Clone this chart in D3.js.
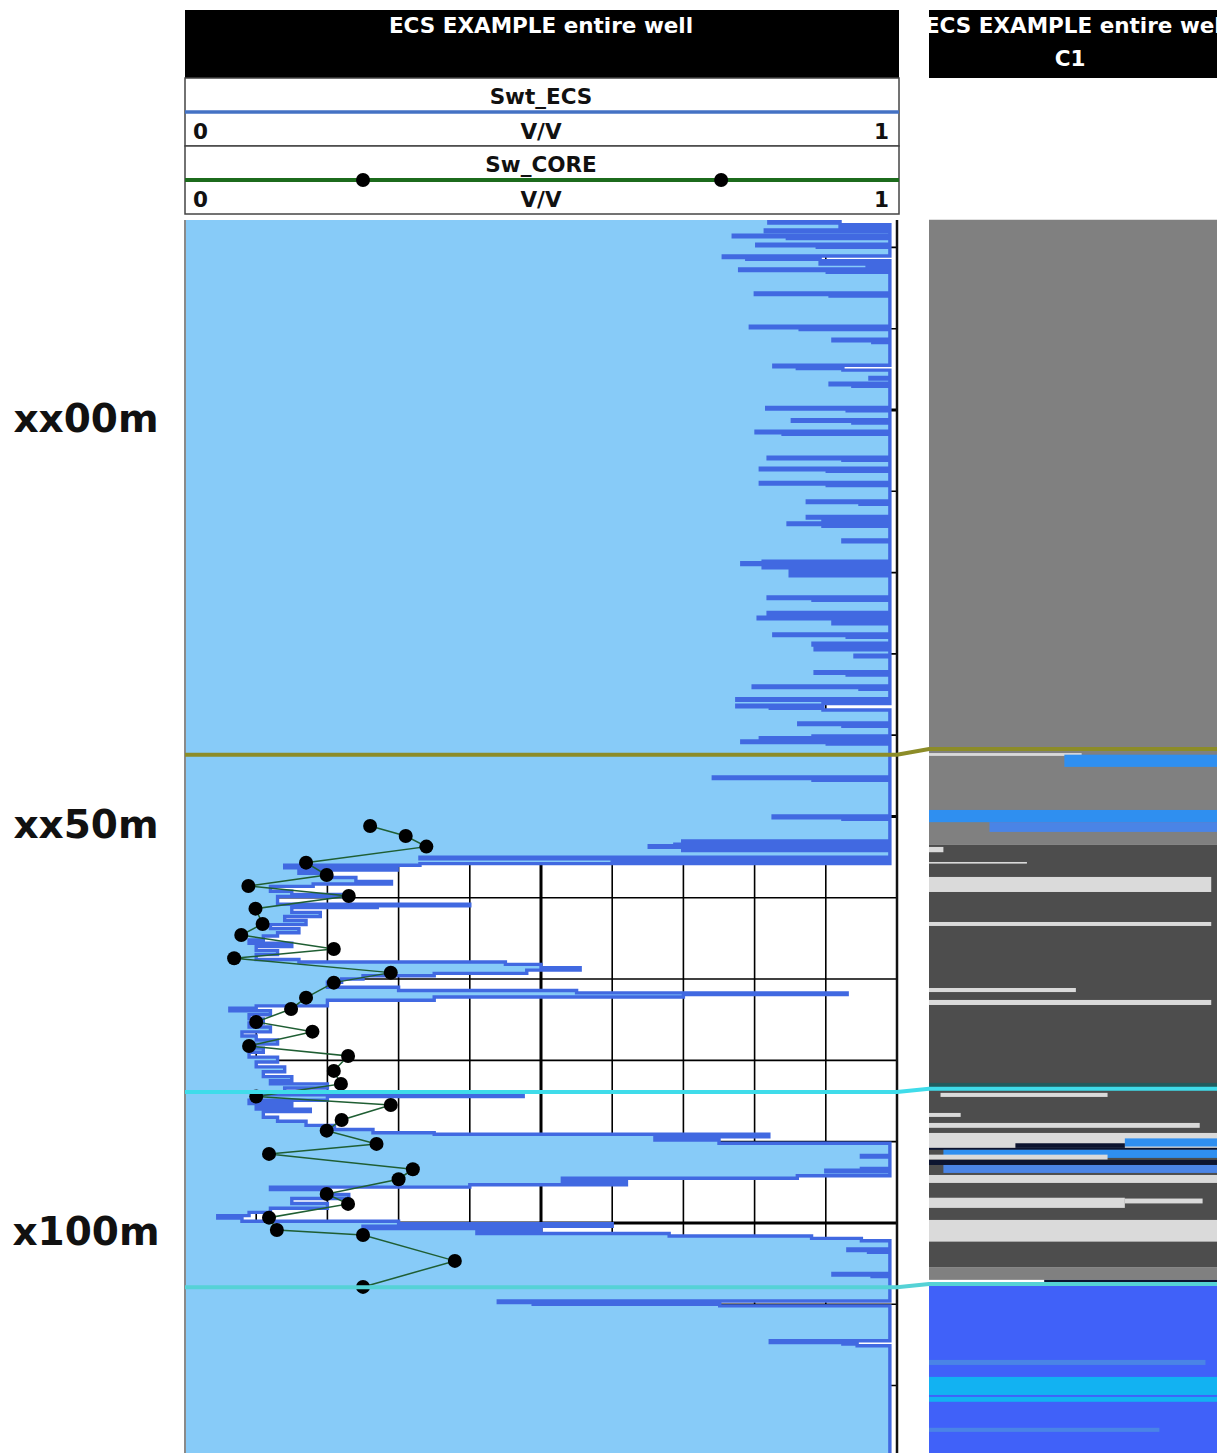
<!DOCTYPE html>
<html>
<head>
<meta charset="utf-8">
<script src="https://cdn.jsdelivr.net/npm/d3@7"></script>
<style>
  body { margin: 0; background: #fff; }
  text { font-family: 'DejaVu Sans', Verdana, sans-serif; font-weight: bold; }
</style>
</head>
<body>
<svg id="log" width="1223" height="1453"></svg>
<script>
  'use strict';

  // depth labels (m, relative) shown in the depth column
  var depthLabels = [[0, 'xx00m'], [50, 'xx50m'], [100, 'x100m']];

  // Swt_ECS samples [depth, V/V] ; each value holds down to the next sample
  var swtEcs = [
    [-23.4, 0.92], [-23.2, 0.82], [-23.0, 0.92], [-22.8, 0.99], [-22.6, 0.92], [-22.4, 0.99],
    [-22.15, 0.815], [-21.95, 0.99],
    [-21.5, 0.77], [-21.3, 0.846], [-21.1, 0.99],
    [-20.4, 0.803], [-20.2, 0.888], [-20.0, 0.99],
    [-18.95, 0.756], [-18.75, 0.789], [-18.55, 0.892], [-18.35, 0.99], [-18.15, 0.892], [-17.95, 0.958], [-17.75, 0.99],
    [-17.35, 0.779], [-17.15, 0.902], [-16.95, 0.99],
    [-14.4, 0.801], [-14.2, 0.906], [-14.0, 0.99],
    [-10.3, 0.794], [-10.1, 0.864], [-9.9, 0.99],
    [-8.7, 0.91], [-8.5, 0.966], [-8.3, 0.99],
    [-5.5, 0.827], [-5.3, 0.86], [-5.1, 0.924], [-4.9, 0.99],
    [-4.0, 0.962], [-3.8, 0.99],
    [-3.3, 0.906], [-3.1, 0.938], [-2.9, 0.99],
    [-0.3, 0.817], [-0.1, 0.93], [0.1, 0.99],
    [1.2, 0.853], [1.4, 0.938], [1.6, 0.99],
    [2.6, 0.802], [2.8, 0.84], [3.0, 0.99],
    [5.8, 0.819], [6.0, 0.924], [6.2, 0.99],
    [7.15, 0.808], [7.35, 0.902], [7.55, 0.99],
    [8.9, 0.808], [9.1, 0.902], [9.3, 0.99],
    [11.2, 0.874], [11.4, 0.948], [11.6, 0.99],
    [13.1, 0.874], [13.3, 0.99], [13.5, 0.896], [13.7, 0.99], [13.9, 0.847], [14.1, 0.896], [14.3, 0.99],
    [16.0, 0.924], [16.2, 0.99],
    [18.6, 0.812], [18.8, 0.782], [19.0, 0.99], [19.2, 0.812], [19.4, 0.85], [19.6, 0.99], [19.8, 0.85], [20.0, 0.99], [20.2, 0.85], [20.4, 0.99],
    [23.0, 0.819], [23.2, 0.882], [23.4, 0.99],
    [24.9, 0.819], [25.1, 0.91], [25.3, 0.99], [25.5, 0.805], [25.7, 0.91], [25.9, 0.99], [26.1, 0.91], [26.3, 0.99],
    [27.55, 0.827], [27.75, 0.93], [27.95, 0.99],
    [28.7, 0.882], [28.9, 0.99],
    [29.3, 0.885], [29.5, 0.99],
    [30.15, 0.941], [30.35, 0.99],
    [32.2, 0.885], [32.4, 0.93], [32.6, 0.99],
    [33.95, 0.798], [34.15, 0.948], [34.35, 0.99],
    [35.5, 0.775], [35.7, 0.896], [35.9, 0.99], [36.1, 0.896], [36.3, 0.775], [36.5, 0.822], [36.7, 0.896], [36.9, 0.99],
    [38.5, 0.862], [38.7, 0.924], [38.9, 0.99],
    [40.1, 0.882], [40.3, 0.808], [40.5, 0.99], [40.7, 0.782], [40.9, 0.902], [41.1, 0.99],
    [45.15, 0.742], [45.35, 0.882], [45.55, 0.99],
    [49.95, 0.826], [50.15, 0.924], [50.35, 0.99],
    [53.0, 0.699], [53.2, 0.99], [53.4, 0.688], [53.6, 0.652], [53.8, 0.99], [54.0, 0.699], [54.2, 0.99],
    [55.0, 0.33], [55.2, 0.99], [55.4, 0.6], [55.6, 0.99], [55.8, 0.33], [56.0, 0.14],
    [56.3, 0.298], [56.6, 0.16], [57.0, 0.2], [57.5, 0.24], [58.0, 0.29], [58.3, 0.18],
    [58.6, 0.12], [59.2, 0.15], [59.6, 0.228], [59.85, 0.13],
    [60.8, 0.40], [61.0, 0.27], [61.2, 0.15],
    [61.8, 0.19], [62.3, 0.14], [62.8, 0.17], [63.3, 0.12], [63.8, 0.16], [64.3, 0.13], [64.7, 0.11],
    [65.2, 0.09], [65.6, 0.15], [66.0, 0.1], [66.5, 0.13], [67.0, 0.1],
    [67.6, 0.16], [67.9, 0.45], [68.2, 0.5], [68.6, 0.555], [68.9, 0.48], [69.3, 0.35], [69.6, 0.25],
    [70.0, 0.22], [70.4, 0.2],
    [71.0, 0.3], [71.4, 0.55], [71.7, 0.93], [71.9, 0.7], [72.2, 0.35], [72.6, 0.2],
    [73.3, 0.1], [73.6, 0.063], [73.9, 0.12], [74.4, 0.09], [74.9, 0.11],
    [75.4, 0.09], [75.9, 0.12], [76.5, 0.08], [77.0, 0.1], [77.5, 0.13], [78.0, 0.085], [78.5, 0.11],
    [79.0, 0.09], [79.6, 0.13], [80.2, 0.1], [80.8, 0.14], [81.4, 0.11], [82.0, 0.15], [82.5, 0.12], [82.9, 0.2],
    [83.4, 0.14], [84.0, 0.1], [84.25, 0.475], [84.45, 0.2],
    [84.9, 0.09], [85.3, 0.15], [85.7, 0.1], [86.0, 0.176], [86.3, 0.11],
    [87.0, 0.13], [87.5, 0.17], [88.0, 0.21], [88.5, 0.264],
    [88.9, 0.35], [89.1, 0.82], [89.4, 0.66], [89.8, 0.75], [90.2, 0.99], [91.7, 0.95], [91.9, 0.99],
    [93.3, 0.95], [93.5, 0.9], [93.7, 0.99], [94.2, 0.86], [94.5, 0.53], [94.9, 0.62], [95.3, 0.4], [95.6, 0.12],
    [95.9, 0.2], [96.5, 0.23], [97.0, 0.15], [97.6, 0.2], [98.2, 0.12], [98.7, 0.09],
    [99.1, 0.046], [99.4, 0.08],
    [99.8, 0.3], [100.1, 0.6], [100.4, 0.25], [100.7, 0.5], [101.0, 0.41], [101.3, 0.68], [101.6, 0.88], [101.9, 0.95], [102.2, 0.99],
    [103.2, 0.931], [103.4, 0.96], [103.6, 0.99],
    [106.2, 0.91], [106.4, 0.965], [106.6, 0.99],
    [109.6, 0.44], [109.8, 0.489], [110.0, 0.751], [110.2, 0.99],
    [114.5, 0.822], [114.7, 0.924], [114.9, 0.944], [115.1, 0.99],
    [128.5, 0.99]
  ];

  // Sw_CORE plugs [depth, V/V]
  var swCore = [
    [51.17, 0.260], [52.40, 0.310], [53.71, 0.339], [55.68, 0.170], [57.20, 0.199],
    [58.55, 0.089], [59.78, 0.230], [61.34, 0.099], [63.22, 0.109], [64.58, 0.079],
    [66.30, 0.209], [67.44, 0.069], [69.21, 0.289], [70.44, 0.209], [72.29, 0.170],
    [73.68, 0.149], [75.28, 0.100], [76.47, 0.179], [78.23, 0.090], [79.46, 0.229],
    [81.30, 0.209], [82.90, 0.219], [84.46, 0.100], [85.49, 0.289], [87.33, 0.220],
    [88.65, 0.199], [90.28, 0.269], [91.51, 0.118], [93.39, 0.320], [94.62, 0.300],
    [96.43, 0.199], [97.66, 0.229], [99.35, 0.118], [100.86, 0.129], [101.48, 0.250],
    [104.67, 0.379], [107.87, 0.250]
  ];

  // formation tops: depth in the Swt_ECS track and in the C1 track
  var topsDepth = [42.4, 83.9, 107.9];
  var topsDepthC1 = [41.7, 83.5, 107.5];

  // C1 track intervals [top, base, class, from, to] (from/to = fraction of track width)
  var c1Intervals = [
    [-23.4, 53.5, 'grey', 0, 1],
    [42.2, 42.55, 'light', 0, 0.53],
    [42.4, 43.9, 'blue', 0.47, 1],
    [49.2, 50.7, 'blue', 0, 1],
    [50.7, 51.9, 'midblue', 0.21, 1],
    [53.5, 105.5, 'dark', 0, 1],
    [53.75, 54.4, 'light', 0, 0.05],
    [55.6, 55.8, 'light', 0, 0.34],
    [57.44, 59.29, 'light', 0, 0.98],
    [62.98, 63.47, 'light', 0, 0.98],
    [71.1, 71.6, 'light', 0, 0.51],
    [72.57, 73.19, 'light', 0, 0.98],
    [82.78, 83.27, 'teal', 0, 1],
    [84.0, 84.5, 'light', 0.04, 0.62],
    [86.47, 86.96, 'light', 0, 0.11],
    [87.7, 88.3, 'light', 0, 0.94],
    [88.93, 90.77, 'light', 0, 1],
    [89.6, 90.6, 'blue', 0.68, 1],
    [90.2, 90.77, 'navy', 0.3, 0.68],
    [90.77, 91.0, 'navy', 0, 1],
    [91.0, 92.0, 'blue', 0.05, 1],
    [91.6, 92.2, 'light', 0, 0.62],
    [92.25, 92.87, 'navy', 0, 1],
    [92.87, 93.85, 'midblue', 0.05, 1],
    [94.1, 95.08, 'light', 0, 1],
    [96.9, 98.15, 'light', 0, 0.68],
    [97.0, 97.6, 'light', 0.68, 0.95],
    [99.63, 102.3, 'light', 0, 1],
    [105.5, 107.0, 'grey', 0, 1],
    [107.0, 107.4, 'navy', 0.4, 1],
    [107.4, 128.3, 'royal', 0, 1],
    [116.85, 117.47, 'midblue', 0, 0.96],
    [118.94, 121.16, 'sky', 0, 1],
    [121.4, 122.0, 'sky', 0, 1],
    [125.2, 125.7, 'midblue', 0, 0.8]
  ];

  var svg = d3.select('#log');

  var y = d3.scaleLinear().domain([-23.37, 128.3]).range([220, 1453]);
  var xL = d3.scaleLinear().domain([0, 1]).range([185, 897]);
  var xR = d3.scaleLinear().domain([0, 1]).range([929, 1217]);
  var c1Color = d3.scaleOrdinal()
    .domain(['grey', 'dark', 'light', 'blue', 'midblue', 'royal', 'sky', 'navy', 'teal'])
    .range(['#808080', '#4d4d4d', '#dadada', '#2f8ff0', '#4a84e6', '#4061f9', '#12b2f2', '#0c1430', '#1f5c5e']);
  var topColor = ['#8c8c28', '#3fdcea', '#55d2d6'];

  var yTop = y.range()[0];
  var yBottom = y.range()[1];

  // each sample value is held down to the next sample depth
  function holdSteps(data) {
    var out = [];
    data.forEach(function(d, i) {
      out.push(d);
      if (i < data.length - 1) out.push([data[i + 1][0], d[1]]);
    });
    return out;
  }
  var swtSteps = holdSteps(swtEcs);

  // ---- clip paths
  var defs = svg.append('defs');
  defs.append('clipPath').attr('id', 'clipL').append('rect')
    .attr('x', xL(0)).attr('y', yTop).attr('width', xL(1) - xL(0)).attr('height', yBottom - yTop);
  defs.append('clipPath').attr('id', 'clipHR').append('rect')
    .attr('x', xR(0)).attr('y', 10).attr('width', xR(1) - xR(0)).attr('height', 68);

  // ---- depth labels
  svg.append('g').selectAll('text')
    .data(depthLabels)
    .enter()
    .append('text')
    .attr('x', 86)
    .attr('y', function(d) { return y(d[0]) + 22; })
    .attr('text-anchor', 'middle')
    .attr('font-size', 39)
    .attr('fill', '#111')
    .text(function(d) { return d[1]; });

  // ---- left track: grid
  var gL = svg.append('g').attr('clip-path', 'url(#clipL)');
  gL.append('rect')
    .attr('x', xL(0)).attr('y', yTop)
    .attr('width', xL(1) - xL(0)).attr('height', yBottom - yTop)
    .attr('fill', '#fff');

  gL.selectAll('line.vgrid')
    .data(xL.ticks(10).slice(1, -1))
    .enter()
    .append('line')
    .attr('class', 'vgrid')
    .attr('x1', function(d) { return xL(d); })
    .attr('x2', function(d) { return xL(d); })
    .attr('y1', yTop).attr('y2', yBottom)
    .attr('stroke', '#000')
    .attr('stroke-width', function(d) { return Math.abs(d - 0.5) < 1e-6 ? 3 : 1.6; });

  gL.selectAll('line.hgrid')
    .data(d3.range(-20, 130, 10))
    .enter()
    .append('line')
    .attr('class', 'hgrid')
    .attr('x1', xL(0)).attr('x2', xL(1))
    .attr('y1', function(d) { return y(d); })
    .attr('y2', function(d) { return y(d); })
    .attr('stroke', '#000')
    .attr('stroke-width', function(d) { return d % 50 === 0 ? 3 : 1.6; });

  // ---- Swt_ECS fill + curve
  var area = d3.area()
    .y(function(d) { return y(d[0]); })
    .x0(xL(0))
    .x1(function(d) { return xL(d[1]); });
  var line = d3.line()
    .y(function(d) { return y(d[0]); })
    .x(function(d) { return xL(d[1]); });

  gL.append('path')
    .datum(swtSteps)
    .attr('d', area)
    .attr('fill', '#87cbf8');
  gL.append('path')
    .datum(swtSteps)
    .attr('d', line)
    .attr('fill', 'none')
    .attr('stroke', '#4169e1')
    .attr('stroke-width', 3.4);

  // ---- Sw_CORE
  var coreLine = d3.line()
    .y(function(d) { return y(d[0]); })
    .x(function(d) { return xL(d[1]); });
  gL.append('path')
    .datum(swCore)
    .attr('d', coreLine)
    .attr('fill', 'none')
    .attr('stroke', '#1f5e33')
    .attr('stroke-width', 1.5);
  gL.selectAll('circle.core')
    .data(swCore)
    .enter()
    .append('circle')
    .attr('class', 'core')
    .attr('cx', function(d) { return xL(d[1]); })
    .attr('cy', function(d) { return y(d[0]); })
    .attr('r', 7)
    .attr('fill', '#000');

  // track borders
  svg.append('line')
    .attr('x1', xL(0)).attr('x2', xL(0)).attr('y1', yTop).attr('y2', yBottom)
    .attr('stroke', '#8a8a8a').attr('stroke-width', 2);
  svg.append('line')
    .attr('x1', xL(1)).attr('x2', xL(1)).attr('y1', yTop).attr('y2', yBottom)
    .attr('stroke', '#111').attr('stroke-width', 2.5);

  // ---- right track (C1)
  svg.append('g').selectAll('rect')
    .data(c1Intervals)
    .enter()
    .append('rect')
    .attr('x', function(d) { return xR(d[3]); })
    .attr('width', function(d) { return xR(d[4]) - xR(d[3]); })
    .attr('y', function(d) { return y(d[0]); })
    .attr('height', function(d) { return y(d[1]) - y(d[0]); })
    .attr('fill', function(d) { return c1Color(d[2]); });

  // ---- formation tops
  var topLine = d3.line();
  svg.append('g').selectAll('path')
    .data(topsDepth)
    .enter()
    .append('path')
    .attr('d', function(d, i) {
      var yl = y(d), yr = y(topsDepthC1[i]);
      return topLine([[xL(0), yl], [xL(1), yl], [xR(0), yr], [xR(1), yr]]);
    })
    .attr('fill', 'none')
    .attr('stroke', function(d, i) { return topColor[i]; })
    .attr('stroke-width', 4);

  // ---- headers
  var hL = svg.append('g');
  hL.append('rect')
    .attr('x', xL(0)).attr('y', 10).attr('width', xL(1) - xL(0) + 2).attr('height', 68)
    .attr('fill', '#000');
  hL.append('text')
    .attr('x', (xL(0) + xL(1)) / 2).attr('y', 33)
    .attr('text-anchor', 'middle').attr('font-size', 21.5).attr('fill', '#fff')
    .text('ECS EXAMPLE entire well');

  var rows = [
    { name: 'Swt_ECS', y0: 78, color: '#4472c4', dots: false },
    { name: 'Sw_CORE', y0: 146, color: '#1c6b1c', dots: true }
  ];
  rows.forEach(function(r) {
    var g = hL.append('g');
    g.append('rect')
      .attr('x', xL(0)).attr('y', r.y0).attr('width', xL(1) - xL(0) + 2).attr('height', 68)
      .attr('fill', '#fff').attr('stroke', '#444').attr('stroke-width', 1.5);
    g.append('text')
      .attr('x', (xL(0) + xL(1)) / 2).attr('y', r.y0 + 26)
      .attr('text-anchor', 'middle').attr('font-size', 21.5).attr('fill', '#111')
      .text(r.name);
    g.append('line')
      .attr('x1', xL(0)).attr('x2', xL(1) + 2)
      .attr('y1', r.y0 + 34).attr('y2', r.y0 + 34)
      .attr('stroke', r.color).attr('stroke-width', r.dots ? 4 : 3.5);
    if (r.dots) {
      g.selectAll('circle')
        .data([0.25, 0.753])
        .enter()
        .append('circle')
        .attr('cx', function(d) { return xL(d); })
        .attr('cy', r.y0 + 34)
        .attr('r', 7)
        .attr('fill', '#000');
    }
    g.append('text')
      .attr('x', xL(0) + 8).attr('y', r.y0 + 61)
      .attr('font-size', 21.5).attr('fill', '#111')
      .text(xL.domain()[0]);
    g.append('text')
      .attr('x', (xL(0) + xL(1)) / 2).attr('y', r.y0 + 61)
      .attr('text-anchor', 'middle').attr('font-size', 21.5).attr('fill', '#111')
      .text('V/V');
    g.append('text')
      .attr('x', xL(1) - 8).attr('y', r.y0 + 61)
      .attr('text-anchor', 'end').attr('font-size', 21.5).attr('fill', '#111')
      .text(xL.domain()[1]);
  });

  var hR = svg.append('g').attr('clip-path', 'url(#clipHR)');
  hR.append('rect')
    .attr('x', xR(0)).attr('y', 10).attr('width', xR(1) - xR(0)).attr('height', 68)
    .attr('fill', '#000');
  hR.append('text')
    .attr('x', (xR(0) + xR(1)) / 2 + 4).attr('y', 33)
    .attr('text-anchor', 'middle').attr('font-size', 21.5).attr('fill', '#fff')
    .text('ECS EXAMPLE entire well');
  hR.append('text')
    .attr('x', (xR(0) + xR(1)) / 2 - 3).attr('y', 66)
    .attr('text-anchor', 'middle').attr('font-size', 21.5).attr('fill', '#fff')
    .text('C1');
</script>
</body>
</html>
